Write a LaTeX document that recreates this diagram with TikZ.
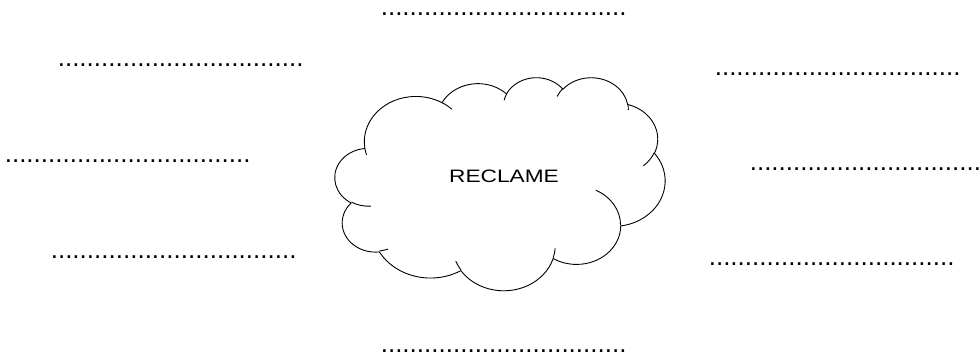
\documentclass[tikz,border=0pt]{standalone}
\usepackage{fontspec}
\setmainfont{Liberation Sans}
\usepackage{graphicx}
\newcommand\cloudcvt[5]{%
 \pgfmathsetmacro\cltmpa{atan2((#2)*sin(#4),(#3)*cos(#4))}%
 \pgfmathsetmacro\cltmpb{atan2((#2)*sin((#4)+(#5)),(#3)*cos((#4)+(#5)))}%
 \pgfmathsetmacro\cltmpb{\cltmpb-360*round((\cltmpb-\cltmpa-(#5))/360)}%
 \expandafter\xdef\csname cl#1s\endcsname{\cltmpa}%
 \expandafter\xdef\csname cl#1e\endcsname{\cltmpb}%
}
\newcommand\dotrow{..................................}
\tikzset{
  cloudline/.style={line width=0.9pt, draw=black, line join=round},
  dotline/.style={anchor=base west, inner sep=0pt, font=\fontsize{26pt}{30pt}\selectfont},
  label/.style={anchor=base, inner sep=0pt, font=\fontsize{18pt}{22pt}\selectfont}
}
\begin{document}
\begin{tikzpicture}[x=1pt, y=-1pt]
\useasboundingbox (0,0) rectangle (980,356);
% main outline arcs
\cloudcvt{A}{67.53}{91.90}{-190.4875}{123.7805}
\cloudcvt{B}{53.33}{72.67}{-144.1024}{89.9452}
\cloudcvt{C}{43.65}{59.45}{-145.8079}{99.7230}
\cloudcvt{D}{48.57}{65.95}{-130.9861}{117.2417}
\cloudcvt{E}{53.33}{72.73}{-78.7089}{109.0269}
\cloudcvt{F}{67.75}{92.20}{-46.2673}{130.2690}
\cloudcvt{G}{57.85}{78.67}{0.6250}{114.0333}
\cloudcvt{H}{67.52}{92.15}{22.4516}{115.1726}
\cloudcvt{I}{77.20}{105.43}{66.2426}{75.7110}
\cloudcvt{J}{43.60}{59.18}{-274.9421}{146.7356}
\cloudcvt{K}{43.45}{59.45}{-246.8285}{152.5189}
% inner stubs
\cloudcvt{a}{43.45}{59.45}{86.7420}{26.4295}
\cloudcvt{b}{43.60}{59.18}{73.6105}{11.4475}
\cloudcvt{c}{67.52}{92.15}{137.6242}{14.0811}
\cloudcvt{d}{67.52}{92.15}{6.4533}{15.9984}
\cloudcvt{e}{57.85}{78.67}{-70.2924}{70.9174}
\cloudcvt{f}{53.33}{72.73}{30.3180}{27.7515}
\cloudcvt{g}{48.57}{65.95}{-13.7443}{14.8589}
\cloudcvt{h}{48.57}{65.95}{-149.1815}{18.1954}
\cloudcvt{i}{43.65}{59.45}{-163.4943}{17.6864}
\cloudcvt{j}{67.53}{91.90}{-66.7070}{12.3194}
\cloudcvt{k}{67.53}{91.90}{157.6544}{11.8582}
\begin{scope}[shift={(335,77)}, x=0.7639pt, y=-0.4931pt]
\draw[cloudline] (39.00,143.70)
  arc[start angle=\clAs, end angle=\clAe, x radius=67.53, y radius=91.90]
  arc[start angle=\clBs, end angle=\clBe, x radius=53.33, y radius=72.67]
  arc[start angle=\clCs, end angle=\clCe, x radius=43.65, y radius=59.45]
  arc[start angle=\clDs, end angle=\clDe, x radius=48.57, y radius=65.95]
  arc[start angle=\clEs, end angle=\clEe, x radius=53.33, y radius=72.73]
  arc[start angle=\clFs, end angle=\clFe, x radius=67.75, y radius=92.20]
  arc[start angle=\clGs, end angle=\clGe, x radius=57.85, y radius=78.67]
  arc[start angle=\clHs, end angle=\clHe, x radius=67.52, y radius=92.15]
  arc[start angle=\clIs, end angle=\clIe, x radius=77.20, y radius=105.43]
  arc[start angle=\clJs, end angle=\clJe, x radius=43.60, y radius=59.18]
  arc[start angle=\clKs, end angle=\clKe, x radius=43.45, y radius=59.45]
  -- cycle;
\draw[cloudline]
  (46.93,261.77) arc[start angle=\clas, end angle=\clae, x radius=43.45, y radius=59.45]
  (69.28,348.99) arc[start angle=\clbs, end angle=\clbe, x radius=43.60, y radius=59.18]
  (164.78,390.90) arc[start angle=\clcs, end angle=\clce, x radius=67.52, y radius=92.15]
  (288.27,347.51) arc[start angle=\clds, end angle=\clde, x radius=67.52, y radius=92.15]
  (341.29,229.54) arc[start angle=\cles, end angle=\clee, x radius=57.85, y radius=78.67]
  (417.98,153.54) arc[start angle=\clfs, end angle=\clfe, x radius=53.33, y radius=72.73]
  (383.24,54.26) arc[start angle=\clgs, end angle=\clge, x radius=48.57, y radius=65.95]
  (290.78,39.52) arc[start angle=\clhs, end angle=\clhe, x radius=48.57, y radius=65.95]
  (221.41,47.20) arc[start angle=\clis, end angle=\clie, x radius=43.65, y radius=59.45]
  (140.00,51.92) arc[start angle=\cljs, end angle=\clje, x radius=67.53, y radius=91.90]
  (41.27,157.89) arc[start angle=\clks, end angle=\clke, x radius=67.53, y radius=91.90];
\end{scope}
\node[label] (reclame) at (504,182) {\scalebox{1.26}[1]{RECLAME}};
\node[dotline] (d1) at (380.6,15.2) {\dotrow};
\node[dotline] (d2) at (57.6,66.2) {\dotrow};
\node[dotline] (d3) at (714.6,75.2) {\dotrow};
\node[dotline] (d4) at (4.6,162.2) {\dotrow};
\node[dotline] (d5) at (749.6,170.2) {\dotrow};
\node[dotline] (d6) at (50.6,258.2) {\dotrow};
\node[dotline] (d7) at (708.6,265.2) {\dotrow};
\node[dotline] (d8) at (380.6,352.2) {\dotrow};
\end{tikzpicture}
\end{document}
